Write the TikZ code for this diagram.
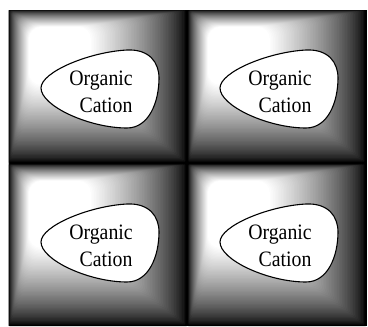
\documentclass[tikz,border=0pt]{standalone}
\usepackage{fontspec}
\setmainfont{Liberation Serif}
\begin{document}
\begin{tikzpicture}[x=1pt,y=-1pt,
  blob/.style={draw=black,line width=1.1pt,fill=white},
  lbl/.style={font=\fontsize{22}{26}\selectfont,xscale=0.9,inner sep=0pt,anchor=base}]
\useasboundingbox (0,0) rectangle (368,327);
\fill[black] (8,10) rectangle (367,326);
\draw[gray!60,line width=0.8pt] (8.4,10) -- (8.4,326);
\foreach \tx/\ty/\tw/\th/\tn in {9/10/178/153/a, 188/10/178/153/b, 9/164/178/162/c, 188/164/178/162/d}{
  \begin{scope}[shift={(\tx,\ty)}]
    \foreach \i in {0,...,60}{
      \pgfmathsetmacro\pp{100*pow(\i/60,0.7)}
      \pgfmathsetmacro\rc{0.5+\i*0.2}
      \fill[white!\pp!black,rounded corners=\rc pt] (\i*0.33,\i*0.28) rectangle (\tw-\i*1.6,\th-\i*1.3);
    }
    \draw[blob] (32,78) .. controls (32,62) and (80,42) .. (118,40)
      .. controls (140,39) and (150,52) .. (150,68)
      .. controls (150,92) and (140,118) .. (118,118)
      .. controls (80,118) and (32,96) .. (32,78) -- cycle;
    \node[lbl] (\tn1) at (92,75) {Organic};
    \node[lbl] (\tn2) at (97,102) {Cation};
  \end{scope}
}
\end{tikzpicture}
\end{document}
